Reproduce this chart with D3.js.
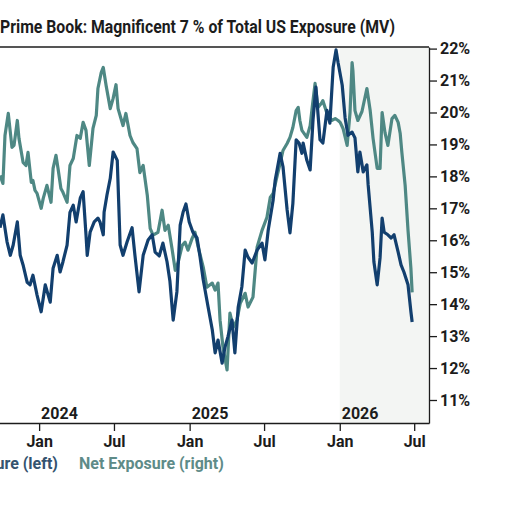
<!DOCTYPE html>
<html>
<head>
<meta charset="utf-8">
<script src="https://cdn.jsdelivr.net/npm/d3@7"></script>
<style>
  html, body { margin: 0; padding: 0; background: #fff; }
  svg { display: block; font-family: Roboto, "Noto Sans", sans-serif; }
</style>
</head>
<body>
<svg id="chart" width="506" height="505"></svg>
<script>
(function () {
  const TITLE = "Prime Book: Magnificent 7 % of Total US Exposure (MV)";

  // Gross exposure, read against the (cropped) left axis
  const grossExposure = [
    ["2023-09-28", 9.20], ["2023-10-05", 9.40], ["2023-10-15", 8.98], ["2023-10-23", 8.77],
    ["2023-10-30", 8.93], ["2023-11-09", 9.29], ["2023-11-16", 8.77], ["2023-11-23", 8.62],
    ["2023-12-03", 8.35], ["2023-12-10", 8.31], ["2023-12-17", 8.46], ["2023-12-27", 8.15],
    ["2024-01-06", 7.89], ["2024-01-16", 8.31], ["2024-01-28", 8.04], ["2024-02-04", 8.57],
    ["2024-02-14", 8.77], ["2024-02-21", 8.51], ["2024-02-28", 8.67], ["2024-03-09", 8.93],
    ["2024-03-16", 9.44], ["2024-03-24", 9.55], ["2024-03-31", 9.29], ["2024-04-10", 9.66],
    ["2024-04-17", 9.76], ["2024-04-24", 9.09], ["2024-04-27", 8.77], ["2024-05-04", 9.13],
    ["2024-05-14", 9.29], ["2024-05-23", 9.35], ["2024-05-28", 9.29], ["2024-06-05", 9.09],
    ["2024-06-07", 9.44], ["2024-06-14", 9.71], ["2024-06-22", 9.97], ["2024-06-29", 10.38],
    ["2024-07-09", 10.25], ["2024-07-16", 8.93], ["2024-07-23", 8.77], ["2024-08-02", 8.98],
    ["2024-08-14", 9.20], ["2024-08-21", 8.77], ["2024-08-31", 8.20], ["2024-09-10", 8.77],
    ["2024-09-22", 9.01], ["2024-10-02", 9.09], ["2024-10-09", 8.82], ["2024-10-19", 8.76],
    ["2024-10-28", 8.96], ["2024-11-07", 8.67], ["2024-11-14", 8.37], ["2024-11-22", 7.76],
    ["2024-12-01", 8.20], ["2024-12-09", 9.24], ["2024-12-16", 9.44], ["2024-12-23", 9.57],
    ["2024-12-31", 9.29], ["2025-01-09", 9.13], ["2025-01-19", 9.04], ["2025-01-26", 8.76],
    ["2025-02-03", 8.39], ["2025-02-15", 7.96], ["2025-02-25", 7.61], ["2025-03-04", 7.25],
    ["2025-03-11", 7.45], ["2025-03-21", 7.09], ["2025-03-28", 7.34], ["2025-04-04", 7.50],
    ["2025-04-14", 7.76], ["2025-04-21", 7.25], ["2025-04-29", 7.96], ["2025-05-08", 8.28],
    ["2025-05-16", 8.85], ["2025-05-23", 8.74], ["2025-06-02", 8.65], ["2025-06-14", 8.85],
    ["2025-06-26", 8.96], ["2025-07-03", 8.70], ["2025-07-11", 9.16], ["2025-07-23", 9.63],
    ["2025-07-28", 9.94], ["2025-08-09", 10.36], ["2025-08-16", 10.15], ["2025-08-26", 9.48],
    ["2025-09-02", 9.12], ["2025-09-09", 9.58], ["2025-09-17", 10.57], ["2025-09-24", 10.52],
    ["2025-10-01", 10.36], ["2025-10-04", 10.52], ["2025-10-13", 10.25], ["2025-10-21", 10.10],
    ["2025-10-28", 10.88], ["2025-11-04", 11.39], ["2025-11-14", 10.57], ["2025-11-21", 10.52],
    ["2025-12-01", 11.03], ["2025-12-08", 10.83], ["2025-12-16", 11.70], ["2025-12-23", 11.97],
    ["2025-12-28", 11.77], ["2026-01-07", 11.42], ["2026-01-14", 10.91], ["2026-01-21", 10.64],
    ["2026-01-31", 10.69], ["2026-02-07", 10.60], ["2026-02-14", 10.07], ["2026-02-19", 10.38],
    ["2026-02-27", 10.07], ["2026-03-08", 10.18], ["2026-03-11", 9.87], ["2026-03-21", 9.13],
    ["2026-03-25", 8.67], ["2026-04-02", 8.31], ["2026-04-09", 8.73], ["2026-04-14", 9.35],
    ["2026-04-19", 9.13], ["2026-04-28", 9.09], ["2026-05-06", 9.04], ["2026-05-13", 9.09],
    ["2026-05-23", 8.82], ["2026-05-30", 8.62], ["2026-06-06", 8.51], ["2026-06-16", 8.31],
    ["2026-06-23", 7.89], ["2026-06-26", 7.73]
  ];

  // Net exposure, read against the right axis
  const netExposure = [
    ["2023-09-28", 18.03], ["2023-10-05", 17.78], ["2023-10-10", 19.28], ["2023-10-18", 19.97],
    ["2023-10-27", 18.91], ["2023-11-01", 18.97], ["2023-11-09", 19.75], ["2023-11-13", 19.19],
    ["2023-11-23", 18.44], ["2023-11-30", 18.34], ["2023-12-05", 18.75], ["2023-12-13", 17.81],
    ["2023-12-17", 17.87], ["2023-12-22", 17.56], ["2023-12-27", 17.47], ["2024-01-06", 17.00],
    ["2024-01-11", 17.31], ["2024-01-20", 17.72], ["2024-01-30", 17.19], ["2024-02-04", 18.25],
    ["2024-02-11", 18.66], ["2024-02-16", 18.25], ["2024-02-23", 17.62], ["2024-02-28", 17.50],
    ["2024-03-09", 17.19], ["2024-03-16", 18.34], ["2024-03-24", 18.56], ["2024-04-02", 19.28],
    ["2024-04-10", 19.19], ["2024-04-17", 19.69], ["2024-04-24", 19.44], ["2024-05-02", 18.34],
    ["2024-05-11", 19.50], ["2024-05-19", 19.91], ["2024-05-23", 20.75], ["2024-05-31", 21.25],
    ["2024-06-05", 21.41], ["2024-06-12", 20.84], ["2024-06-22", 20.12], ["2024-06-29", 20.44],
    ["2024-07-06", 20.87], ["2024-07-11", 20.12], ["2024-07-18", 19.81], ["2024-07-23", 19.59],
    ["2024-07-30", 19.97], ["2024-08-09", 19.28], ["2024-08-16", 19.06], ["2024-08-26", 18.87],
    ["2024-09-02", 18.12], ["2024-09-10", 18.34], ["2024-09-20", 17.41], ["2024-09-27", 16.37],
    ["2024-10-04", 16.16], ["2024-10-16", 16.25], ["2024-10-26", 16.94], ["2024-11-02", 16.31],
    ["2024-11-10", 16.47], ["2024-11-19", 15.75], ["2024-11-27", 15.06], ["2024-12-04", 15.31],
    ["2024-12-14", 15.84], ["2024-12-21", 15.94], ["2024-12-28", 15.69], ["2025-01-07", 16.06],
    ["2025-01-14", 16.25], ["2025-01-22", 15.78], ["2025-02-03", 15.16], ["2025-02-12", 14.53],
    ["2025-02-25", 14.66], ["2025-03-04", 14.44], ["2025-03-11", 14.66], ["2025-03-16", 13.50],
    ["2025-03-23", 12.66], ["2025-04-02", 11.94], ["2025-04-09", 13.72], ["2025-04-17", 13.28],
    ["2025-04-26", 13.50], ["2025-05-04", 14.03], ["2025-05-16", 14.34], ["2025-05-23", 13.91],
    ["2025-06-04", 14.22], ["2025-06-14", 15.78], ["2025-06-26", 16.31], ["2025-07-08", 16.72],
    ["2025-07-16", 17.34], ["2025-07-23", 17.47], ["2025-08-02", 18.03], ["2025-08-09", 18.41],
    ["2025-08-16", 18.81], ["2025-08-26", 19.03], ["2025-09-02", 19.22], ["2025-09-09", 19.53],
    ["2025-09-17", 20.06], ["2025-09-22", 20.16], ["2025-09-26", 19.75], ["2025-10-01", 19.44],
    ["2025-10-13", 19.22], ["2025-10-21", 19.59], ["2025-10-26", 20.16], ["2025-11-02", 20.91],
    ["2025-11-09", 20.16], ["2025-11-17", 20.28], ["2025-11-21", 20.37], ["2025-12-01", 19.97],
    ["2025-12-13", 19.75], ["2025-12-21", 19.81], ["2025-12-28", 19.75], ["2026-01-02", 19.69],
    ["2026-01-09", 19.50], ["2026-01-19", 18.97], ["2026-01-26", 20.00], ["2026-01-31", 21.56],
    ["2026-02-02", 21.31], ["2026-02-07", 20.06], ["2026-02-14", 19.75], ["2026-02-24", 20.03],
    ["2026-03-08", 20.75], ["2026-03-16", 20.06], ["2026-03-23", 19.19], ["2026-04-02", 18.25],
    ["2026-04-09", 18.25], ["2026-04-14", 20.00], ["2026-04-21", 19.37], ["2026-04-28", 18.97],
    ["2026-05-08", 19.81], ["2026-05-15", 19.91], ["2026-05-23", 19.69], ["2026-05-28", 19.34],
    ["2026-06-01", 18.75], ["2026-06-09", 17.72], ["2026-06-16", 16.31], ["2026-06-23", 15.12],
    ["2026-06-26", 14.37]
  ];

  const rightTicks = [11, 12, 13, 14, 15, 16, 17, 18, 19, 20, 21, 22];
  const monthTicks = ["2024-01-01", "2024-07-01", "2025-01-01", "2025-07-01", "2026-01-01", "2026-07-01"];
  const yearLabels = ["2024", "2025", "2026"];
  const highlightStart = "2026-01-01";
  const seriesNames = ["Gross Exposure (left)", "Net Exposure (right)"];

  const NAVY = "#123f6e";
  const TEAL = "#4e8884";
  const INK = "#1c1c1c";

  // the chart is cropped on the left, so the plot starts off-screen
  const PLOT = { left: -111, right: 429, top: 47, bottom: 423 };

  const parse = d3.timeParse("%Y-%m-%d");
  const svg = d3.select("#chart");

  const x = d3.scaleTime()
    .domain([parse("2023-01-01"), parse("2026-08-06")])
    .range([PLOT.left, PLOT.right]);
  const yRight = d3.scaleLinear().domain([10.28, 22.05]).range([PLOT.bottom, PLOT.top]);
  const yLeft = d3.scaleLinear().domain([6.157, 12.016]).range([PLOT.bottom, PLOT.top]);

  // shaded current-year band
  svg.append("rect")
    .attr("x", x(parse(highlightStart)))
    .attr("y", PLOT.top)
    .attr("width", PLOT.right - x(parse(highlightStart)))
    .attr("height", PLOT.bottom - PLOT.top)
    .attr("fill", "#f3f5f3");

  const line = (yScale) => d3.line()
    .x((d) => x(parse(d[0])))
    .y((d) => yScale(d[1]));

  svg.append("path")
    .datum(netExposure)
    .attr("fill", "none")
    .attr("stroke", TEAL)
    .attr("stroke-width", 3.2)
    .attr("stroke-linejoin", "round")
    .attr("d", line(yRight));

  svg.append("path")
    .datum(grossExposure)
    .attr("fill", "none")
    .attr("stroke", NAVY)
    .attr("stroke-width", 3.2)
    .attr("stroke-linejoin", "round")
    .attr("d", line(yLeft));

  // top border of the frame
  svg.append("line")
    .attr("x1", PLOT.left).attr("x2", PLOT.right)
    .attr("y1", PLOT.top).attr("y2", PLOT.top)
    .attr("stroke", INK).attr("stroke-width", 1.3);

  const rightAxis = svg.append("g")
    .attr("transform", `translate(${PLOT.right},0)`)
    .call(d3.axisRight(yRight)
      .tickValues(rightTicks)
      .tickFormat((d) => d + "%")
      .tickSize(8)
      .tickSizeOuter(0)
      .tickPadding(3));

  const xAxis = svg.append("g")
    .attr("transform", `translate(0,${PLOT.bottom})`)
    .call(d3.axisBottom(x)
      .tickValues(monthTicks.map(parse))
      .tickFormat(d3.timeFormat("%b"))
      .tickSize(8)
      .tickSizeOuter(0)
      .tickPadding(5));

  [rightAxis, xAxis].forEach((g) => {
    g.attr("font-family", null).attr("font-size", 16).attr("font-weight", 700);
    g.selectAll("line, path").attr("stroke", INK).attr("stroke-width", 1.3);
    g.selectAll("text").attr("fill", INK);
  });

  svg.append("g")
    .selectAll("text")
    .data(yearLabels)
    .join("text")
    .attr("x", (d) => x(parse(d + "-01-01")) + 2)
    .attr("y", PLOT.bottom - 4)
    .attr("font-size", 16)
    .attr("font-weight", 700)
    .attr("fill", INK)
    .text((d) => d);

  svg.append("text")
    .attr("x", 0)
    .attr("y", 33)
    .attr("font-size", 17.5)
    .attr("font-weight", 700)
    .attr("fill", INK)
    .attr("textLength", 395)
    .attr("lengthAdjust", "spacingAndGlyphs")
    .text(TITLE);

  // legend (the left entry is cut by the crop, as in the source)
  svg.append("text")
    .attr("x", 58).attr("y", 469)
    .attr("text-anchor", "end")
    .attr("font-size", 16).attr("font-weight", 700)
    .attr("fill", "#34536f")
    .text(seriesNames[0]);
  svg.append("text")
    .attr("x", 79).attr("y", 469)
    .attr("font-size", 16).attr("font-weight", 700)
    .attr("fill", "#5e8b88")
    .text(seriesNames[1]);
})();
</script>
</body>
</html>
